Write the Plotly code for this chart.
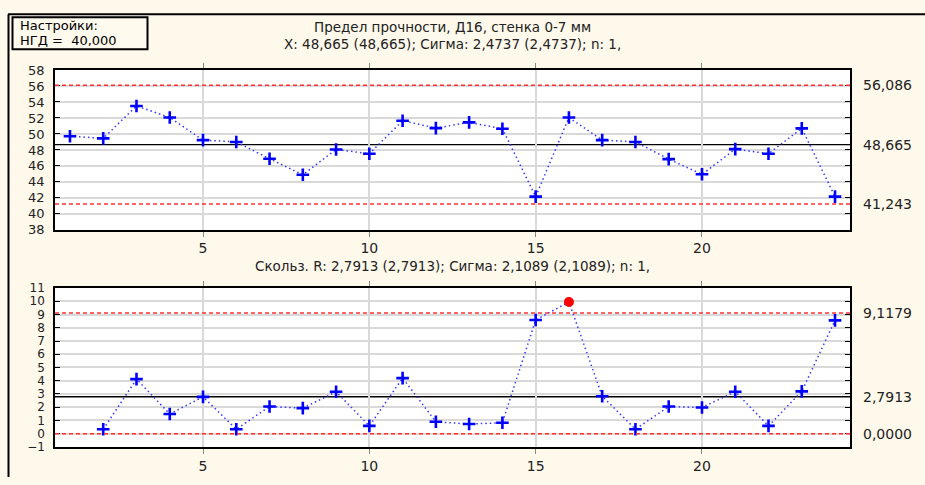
import plotly.graph_objects as go

# ---- data ----
samples = list(range(1, 25))
x_values = [49.72, 49.45, 53.5, 52.06, 49.23, 49.0, 46.9, 44.9, 48.06, 47.53,
            51.66, 50.73, 51.45, 50.65, 42.16, 52.06, 49.23, 49.0, 46.85, 44.95,
            48.1, 47.53, 50.7, 42.16]
mr_samples = list(range(2, 25))
mr_values = [0.34, 4.12, 1.49, 2.78, 0.34, 2.05, 1.93, 3.17, 0.59, 4.2,
             0.9, 0.73, 0.83, 8.59, 9.95, 2.83, 0.34, 2.05, 1.98, 3.17,
             0.59, 3.2, 8.56]
x_limits = [56.086, 48.665, 41.243]          # UCL, CL, LCL
x_limit_labels = ["56,086", "48,665", "41,243"]
mr_limits = [9.1179, 2.7913, 0.0]
mr_limit_labels = ["9,1179", "2,7913", "0,0000"]
out_of_control = [16]                         # MR point above UCL
x_ticks = [5, 10, 15, 20]

title1 = "Предел прочности, Д16, стенка 0-7 мм"
title2 = "X: 48,665 (48,665); Сигма: 2,4737 (2,4737); n: 1,"
title3 = "Скольз. R: 2,7913 (2,7913); Сигма: 2,1089 (2,1089); n: 1,"
box_lines = ["Настройки:", "НГД =  40,000"]

W, H = 925, 485
FONT = "DejaVu Sans"
TXT = "#222222"
BLUE = "#0000FF"
LBLUE = "#3535ff"
RED = "#FF3030"

def px(x):
    return x / W

def py(y):
    return 1 - y / H

fig = go.Figure()

cross = dict(symbol="cross-thin", size=9, line=dict(color=BLUE, width=2.6))
dotted = dict(color=LBLUE, width=1.5, dash="1.5px,3px")

# top chart
fig.add_trace(go.Scatter(
    x=samples, y=x_values, mode="lines+markers", line=dotted, marker=cross,
    xaxis="x", yaxis="y", showlegend=False))

# bottom chart
normal_x = [s for s in mr_samples if s not in out_of_control]
normal_y = [v for s, v in zip(mr_samples, mr_values) if s not in out_of_control]
bad_x = [s for s in mr_samples if s in out_of_control]
bad_y = [v for s, v in zip(mr_samples, mr_values) if s in out_of_control]
fig.add_trace(go.Scatter(
    x=mr_samples, y=mr_values, mode="lines", line=dotted,
    xaxis="x2", yaxis="y2", showlegend=False))
fig.add_trace(go.Scatter(
    x=normal_x, y=normal_y, mode="markers", marker=cross,
    xaxis="x2", yaxis="y2", showlegend=False))
fig.add_trace(go.Scatter(
    x=bad_x, y=bad_y, mode="markers",
    marker=dict(symbol="circle", size=10, color="#FF0000"),
    xaxis="x2", yaxis="y2", showlegend=False))

shapes = []
annotations = []

def limit_lines(limits, labels, xref, yref):
    for i, (v, lab) in enumerate(zip(limits, labels)):
        is_cl = (i == 1)
        shapes.append(dict(
            type="line", xref=xref + " domain", yref=yref, x0=0, x1=1, y0=v, y1=v,
            line=dict(color="black" if is_cl else RED, width=1.3 if is_cl else 1.5,
                      dash="solid" if is_cl else "4px,3px"),
            layer="below" if is_cl else "above"))
        annotations.append(dict(
            text=lab, xref="paper", yref=yref, x=px(861), y=v, xanchor="left",
            yanchor="middle", showarrow=False,
            font=dict(family=FONT, size=14, color=TXT)))

limit_lines(x_limits, x_limit_labels, "x", "y")
limit_lines(mr_limits, mr_limit_labels, "x2", "y2")

# outer frame lines (top and left)
shapes.append(dict(type="line", xref="paper", yref="paper", x0=px(8), x1=1,
                   y0=py(7.5), y1=py(7.5), line=dict(color="black", width=2)))
shapes.append(dict(type="line", xref="paper", yref="paper", x0=px(8.5), x1=px(8.5),
                   y0=0, y1=py(7.5), line=dict(color="black", width=2)))
# settings box
shapes.append(dict(type="rect", xref="paper", yref="paper", x0=px(12.5), x1=px(147.5),
                   y0=py(43.5), y1=py(10.5), line=dict(color="black", width=2),
                   fillcolor="#FFFAEE"))

def text(t, x, y, anchor, size=14, color=TXT):
    annotations.append(dict(text=t, xref="paper", yref="paper", x=px(x), y=py(y),
                            xanchor=anchor, yanchor="middle", showarrow=False,
                            font=dict(family=FONT, size=size, color=color)))

text(box_lines[0], 18, 19, "left", 13, "black")
text(box_lines[1], 18, 35, "left", 13, "black")
text(title1, 452, 21, "center", 13.5)
text(title2, 452, 38, "center", 13.5)
text(title3, 452, 267, "center", 13.5)

xaxis_common = dict(range=[0.55, 24.45], tickvals=x_ticks, showgrid=True,
                    gridcolor="#D9D9D9", gridwidth=1.5, zeroline=False,
                    showline=True, linecolor="black", linewidth=1.5, mirror="ticks",
                    ticks="outside", ticklen=5, tickcolor="#888888",
                    tickfont=dict(family=FONT, size=14, color=TXT),
                    domain=[px(55), px(850)])
yaxis_common = dict(showgrid=True, gridcolor="#D9D9D9", gridwidth=1.5, zeroline=False,
                    showline=True, linecolor="black", linewidth=1.5, mirror="ticks",
                    ticks="inside", ticklen=5, tickcolor="black",
                    ticklabelstandoff=6)

fig.update_layout(
    width=W, height=H, margin=dict(l=0, r=0, t=0, b=0),
    paper_bgcolor="#FFF9EC", plot_bgcolor="white",
    xaxis=dict(**xaxis_common, anchor="y"),
    yaxis=dict(**yaxis_common, range=[38, 58], dtick=2, tick0=38,
               tickfont=dict(family=FONT, size=13, color=TXT),
               domain=[py(230), py(65)], anchor="x"),
    xaxis2=dict(**xaxis_common, anchor="y2"),
    yaxis2=dict(**yaxis_common, range=[-1, 11], dtick=1, tick0=-1,
                tickfont=dict(family=FONT, size=12, color=TXT),
                domain=[py(454), py(290)], anchor="x2"),
    shapes=shapes, annotations=annotations,
)

fig.write_html("out.html",
               config={"displayModeBar": False},
               post_script="document.body.style.margin='0';"
                           "document.body.style.overflow='hidden';")
